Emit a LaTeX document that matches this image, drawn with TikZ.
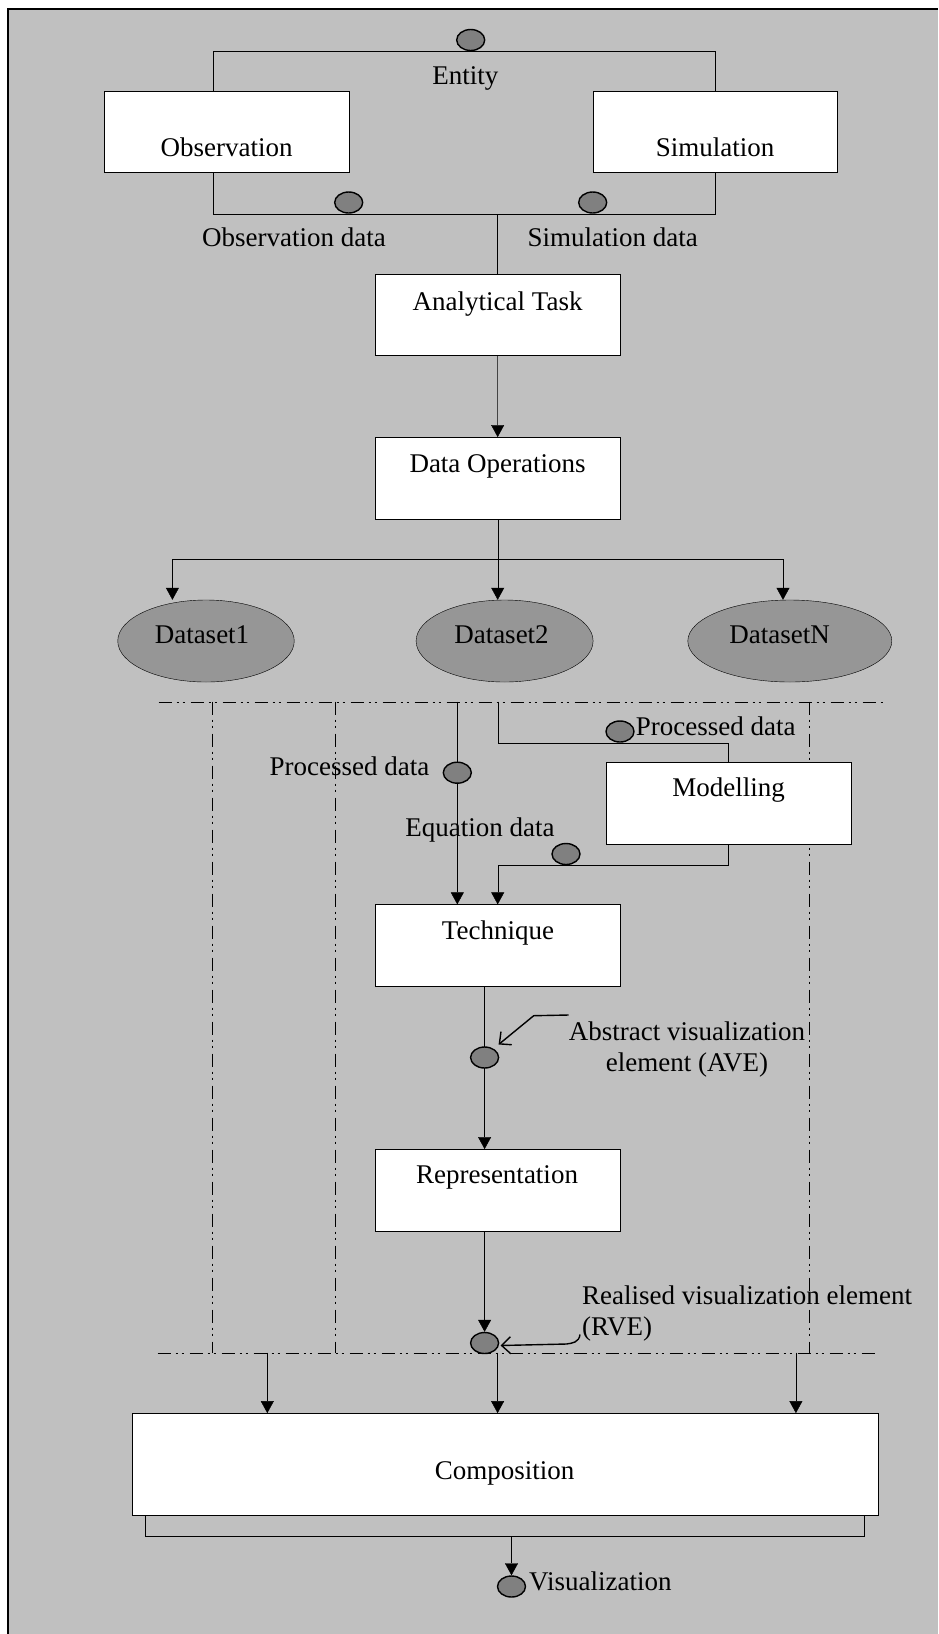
\documentclass[tikz,border=0pt]{standalone}
\usepackage{fontspec}
\setmainfont{Liberation Serif}
\usetikzlibrary{shapes.geometric,arrows.meta}
\definecolor{panel}{HTML}{C0C0C0}
\definecolor{setgray}{HTML}{969696}
\definecolor{dotgray}{HTML}{808080}
\pgfdeclarelayer{back}
\pgfdeclarelayer{wires}
\pgfsetlayers{back,wires,main}

\begin{document}
\begin{tikzpicture}[x=1pt, y=-1pt, line width=1.6pt,
                font=\fontsize{27}{31}\selectfont,
                box/.style={draw, fill=white, minimum width=244.5, minimum height=81.5, inner sep=0},
                dataset/.style={draw, ellipse, fill=setgray, minimum height=82, inner sep=0},
                dot/.style={draw, ellipse, fill=dotgray, minimum width=28, minimum height=21, inner sep=0, line width=1.4pt},
                lbl/.style={inner sep=0, anchor=base},
                arr/.style={-{Triangle[length=12pt, width=13pt]}},
                note/.style={-{Straight Barb[length=9pt, width=17pt]}, line width=1.4pt},
                dashdot/.style={dash pattern=on 13pt off 5pt on 2pt off 4pt on 2pt off 6pt}]
                \useasboundingbox (0,0) rectangle (938,1634);

                \begin{pgfonlayer}{back}
                \fill [panel] (8,9) rectangle (938,1634);
                \draw [line width=2] (8,1634) -- (8,9) -- (938,9);
                \end{pgfonlayer}

                \node [box] (obs) at (226.7,131.7) {};
                \node [box] (sim) at (715,131.7) {};
                \node [box] (task) at (497.6,314.5) {};
                \node [box] (dataop) at (497.7,478) {};
                \node [box] (model) at (728.5,803.4) {};
                \node [box] (tech) at (497.7,945.3) {};
                \node [box] (rep) at (497.7,1190) {};
                \node [box, minimum width=746, minimum height=102] (comp) at (505,1464.3) {};

                \node [dataset, minimum width=176.5] (ds1) at (206,641) {};
                \node [dataset, minimum width=177] (ds2) at (504.6,641) {};
                \node [dataset, minimum width=204] (dsn) at (789.8,641) {};

                \node [dot] (ent) at (470.7,40) {};
                \node [dot] (odat) at (348.7,202.5) {};
                \node [dot] (sdat) at (592.7,202.5) {};
                \node [dot] (pl) at (457.3,772.7) {};
                \node [dot] (pr) at (620,731.5) {};
                \node [dot] (eq) at (566,854) {};
                \node [dot] (ave) at (484.6,1057.5) {};
                \node [dot] (rve) at (484.6,1343) {};
                \node [dot] (vis) at (511.5,1586.5) {};

                \node [lbl] (ent-t) at (465.3,84.3) {Entity};
                \node [lbl] (obs-t) at (226.7,156.7) {Observation};
                \node [lbl] (sim-t) at (715,156.7) {Simulation};
                \node [lbl] (odat-t) at (294,246) {Observation data};
                \node [lbl] (sdat-t) at (612.8,246) {Simulation data};
                \node [lbl] (task-t) at (497.6,310) {Analytical Task};
                \node [lbl] (dataop-t) at (497.6,472) {Data Operations};
                \node [lbl] (ds1-t) at (202,643) {Dataset1};
                \node [lbl] (ds2-t) at (501.5,643) {Dataset2};
                \node [lbl] (dsn-t) at (779.6,643) {DatasetN};
                \node [lbl] (pl-t) at (349.5,775) {Processed data};
                \node [lbl, anchor=base west] (pr-t) at (635.7,735) {Processed data};
                \node [lbl] (model-t) at (728.6,796.7) {Modelling};
                \node [lbl] (eq-t) at (480,836.7) {Equation data};
                \node [lbl] (tech-t) at (498,939) {Technique};
                \node [lbl, anchor=north, align=center] (ave-t) at (687,1021.5) {Abstract visualization\\element (AVE)};
                \node [lbl] (rep-t) at (497,1183.3) {Representation};
                \node [lbl, anchor=north west, align=left] (rve-t) at (582,1285.6) {Realised visualization element\\(RVE)};
                \node [lbl] (comp-t) at (504.6,1479) {Composition};
                \node [lbl, anchor=base west] (vis-t) at (529,1590) {Visualization};

                \coordinate (split) at (497.7,559.3);
                \coordinate (sepA) at (158.7,701.7);
                \coordinate (sepB) at (886,701.7);
                \coordinate (sepC) at (157.7,1352.7);
                \coordinate (sepD) at (879.3,1352.7);
                \coordinate (join) at (511.5,1536);
                \foreach \x [count=\i] in {267.3,497.6,795.9}
                    \coordinate (in\i) at (\x,1352.7);

                \begin{pgfonlayer}{wires}
                \draw ([xshift=-13.2]obs.north) |- (ent.south) -| (sim.north);
                \draw ([xshift=-13.2]obs.south) |- (odat.south) -| (sim.south);
                \draw (task.north) -- (task.north |- odat.south);
                \draw [arr] (task) -- (dataop);

                \draw (dataop.south) -- (split);
                \draw [arr] (split) -| ([xshift=-33.6]ds1.north);
                \draw [arr] (split) -- (split |- ds2.north);
                \draw [arr] (split) -| ([xshift=-6.8]dsn.north);

                \draw [dashdot] (sepA) -- (sepB);
                \draw [dashdot] (sepC) -- (sepD);
                \foreach \x in {212.8,335.2,809.2}
                    \draw [dashdot, line width=1pt] (\x,701.7) -- (\x,1352.7);

                \draw [arr] (pl |- sepA) -- (pl |- tech.north);
                \draw (tech.north |- sepA) |- (pr.south) -| (model.north);
                \draw [arr] (model.south) |- (eq.south) -| (tech.north);

                \draw [arr] (tech.south -| ave) -- (rep.north -| ave);
                \draw [arr] (rep.south -| rve) -- (rve.north);
                \foreach \i in {1,2,3}
                    \draw [arr] (in\i) -- (in\i |- comp.north);

                \draw ([xshift=13.4]comp.south west) |- (join) -| ([xshift=-13.9]comp.south east);
                \draw [arr] (join) -- (vis.north);

                \draw [note] ([yshift=6.5]ave-t.north west) -- ++(-35,0.7) -- ([shift={(14,-13)}]ave.center);
                \draw [note] ([shift={(-2,-7)}]rve-t.south west) .. controls +(-1,8) and +(6,-1) .. ([shift={(82,1)}]rve.center) -- ([shift={(16,2.5)}]rve.center);
                \end{pgfonlayer}
            \end{tikzpicture}
\end{document}
